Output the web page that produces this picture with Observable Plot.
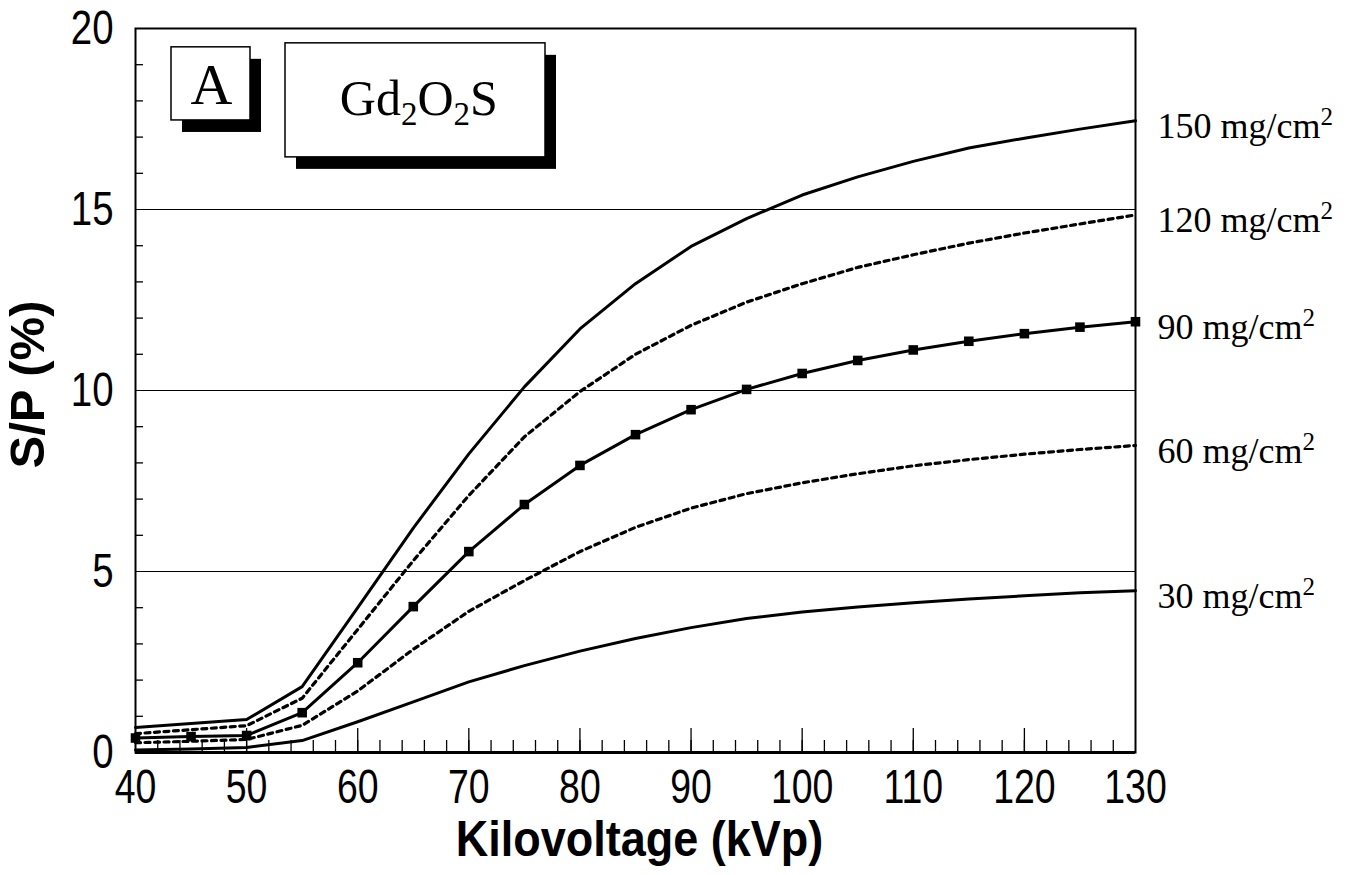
<!DOCTYPE html>
<html>
<head>
<meta charset="utf-8">
<script src="https://cdn.jsdelivr.net/npm/d3@7"></script>
<script src="https://cdn.jsdelivr.net/npm/@observablehq/plot@0.6"></script>
<style>
  html, body { margin: 0; padding: 0; background: #fff; }
  #chart svg { display: block; }
</style>
</head>
<body>
<div id="chart"></div>
<script>
// Tube voltage (kVp) at which S/P was computed
const kv = [40, 45, 50, 55, 60, 65, 70, 75, 80, 85, 90, 95, 100, 105, 110, 115, 120, 125, 130];

// S/P (%) for each screen coating weight
const s150 = [0.69, 0.80, 0.91, 1.82, 4.0, 6.2, 8.25, 10.1, 11.7, 12.95, 13.98, 14.75, 15.4, 15.9, 16.33, 16.7, 16.97, 17.22, 17.45];
const s120 = [0.52, 0.63, 0.74, 1.5, 3.4, 5.3, 7.1, 8.72, 9.97, 11.0, 11.8, 12.44, 12.95, 13.4, 13.75, 14.07, 14.35, 14.6, 14.85];
const s90  = [0.40, 0.44, 0.47, 1.10, 2.48, 4.03, 5.55, 6.85, 7.93, 8.78, 9.47, 10.03, 10.47, 10.83, 11.12, 11.36, 11.57, 11.75, 11.9];
const s60  = [0.27, 0.31, 0.36, 0.75, 1.7, 2.85, 3.9, 4.75, 5.55, 6.22, 6.75, 7.15, 7.45, 7.7, 7.92, 8.09, 8.24, 8.37, 8.48];
const s30  = [0.07, 0.10, 0.14, 0.33, 0.85, 1.4, 1.95, 2.4, 2.8, 3.15, 3.45, 3.7, 3.88, 4.02, 4.14, 4.24, 4.33, 4.41, 4.47];

const weights = [150, 120, 90, 60, 30];
const values  = [s150, s120, s90, s60, s30];
const dotted  = [false, true, false, true, false];

// Axis ticks and titles
const xTicks = [40, 50, 60, 70, 80, 90, 100, 110, 120, 130];
const yTicks = [0, 5, 10, 15, 20];
const gridY = [5, 10, 15];
const xMinor = d3.range(42, 130, 2);
const yMinor = d3.range(1, 20, 1).filter(v => v % 5 !== 0);
const xTitle = "Kilovoltage (kVp)";
const yTitle = "S/P (%)";

// Boxed captions in the upper left corner (data units)
const captions = [
  {x1: 43.24, x2: 50.35, y1: 17.46, y2: 19.48, cx: 46.84, cy: 18.43, text: "A"},
  {x1: 53.5,  x2: 76.9,  y1: 16.44, y2: 19.59, cx: 65.5, cy: 18.04, text: "Gd2O2S"}
];

const rows = weights.flatMap((w, i) => kv.map((k, j) => ({kv: k, sp: values[i][j], weight: w})));
const ends = weights.map((w, i) => ({kv: kv[kv.length - 1], sp: values[i][values[i].length - 1], label: `${w} mg/cm2`}));

const serif = "'Liberation Serif', 'Times New Roman', serif";
const sans = "'Liberation Sans', Arial, sans-serif";

const lineMarks = weights.map((w, i) =>
  Plot.line(rows.filter(d => d.weight === w), {
    x: "kv", y: "sp", stroke: "black", strokeWidth: dotted[i] ? 3.2 : 3,
    strokeDasharray: dotted[i] ? "5,4.5" : null, strokeLinejoin: "round"
  })
);

const chart = Plot.plot({
  width: 1347,
  height: 875,
  marginLeft: 135,
  marginRight: 212,
  marginTop: 28,
  marginBottom: 123,
  x: {domain: [40, 130]},
  y: {domain: [0, 20]},
  style: {fontFamily: sans, fontSize: "48px", color: "black", background: "white"},
  marks: [
    Plot.ruleY(gridY, {stroke: "black", strokeWidth: 1.2}),
    Plot.tickX(xMinor, {x: d => d, stroke: "black", strokeWidth: 1.3, insetTop: 712}),
    Plot.tickX(xTicks.slice(1, -1), {x: d => d, stroke: "black", strokeWidth: 1.3, insetTop: 700}),
    Plot.tickY(yMinor, {y: d => d, stroke: "black", strokeWidth: 1.3, insetRight: 992}),
    Plot.axisX({ticks: xTicks, tickSize: 0, tickPadding: 16, label: null, tickFormat: d => `${d}`}),
    Plot.axisY({ticks: yTicks, tickSize: 0, tickPadding: 22, label: null}),
    ...lineMarks,
    Plot.dot(rows.filter(d => d.weight === 90), {x: "kv", y: "sp", symbol: "square", r: 5.4, fill: "black"}),
    Plot.text(ends, {
      x: "kv", y: "sp", text: "label", textAnchor: "start", dx: 22, dy: 6,
      fontFamily: serif, fontSize: 36
    }),
    Plot.rect(captions, {x1: "x1", x2: "x2", y1: "y1", y2: "y2", fill: "black", dx: 11, dy: 12}),
    Plot.rect(captions, {x1: "x1", x2: "x2", y1: "y1", y2: "y2", fill: "white", stroke: "black", strokeWidth: 1.5}),
    Plot.text(captions.filter(d => d.text === "A"), {x: "cx", y: "cy", text: "text", fontFamily: serif, fontSize: 58}),
    Plot.text(captions.filter(d => d.text !== "A"), {x: "cx", y: "cy", text: "text", fontFamily: serif, fontSize: 50}),
    Plot.frame({stroke: "black", strokeWidth: 2}),
    Plot.ruleY([0], {stroke: "black", strokeWidth: 3}),
    Plot.text([xTitle], {
      frameAnchor: "bottom", lineAnchor: "middle", dx: 4, dy: 87,
      fontWeight: "bold", fontSize: 50, fontFamily: sans
    }),
    Plot.text([yTitle], {
      frameAnchor: "left", textAnchor: "middle", lineAnchor: "middle", dx: -107, dy: -6, rotate: -90,
      fontWeight: "bold", fontSize: 49, fontFamily: sans
    })
  ]
});

const svg = d3.select(chart);

// Condensed lettering for tick labels and the kVp title
function condense(sel, k) {
  sel.each(function () {
    const t = d3.select(this);
    const tr = t.attr("transform");
    if (tr) t.attr("transform", `${tr} scale(${k},1)`);
    else t.attr("transform", `translate(${+t.attr("x") || 0},${+t.attr("y") || 0}) scale(${k},1)`).attr("x", null).attr("y", null);
  });
}
condense(svg.selectAll('g[aria-label="x-axis tick label"] text'), 0.78);
condense(svg.selectAll('g[aria-label="y-axis tick label"] text'), 0.8);
condense(svg.selectAll("text").filter(function () { return this.textContent === xTitle; }), 0.9);

// Chemical formula with lowered, smaller subscripts
svg.selectAll("text")
  .filter(function () { return this.textContent === "Gd2O2S"; })
  .each(function () {
    const t = d3.select(this);
    t.text(null);
    const parts = [["Gd", false], ["2", true], ["O", false], ["2", true], ["S", false]];
    let shifted = false;
    parts.forEach(([s, sub]) => {
      const span = t.append("tspan").text(s);
      if (sub) { span.attr("font-size", 33).attr("dy", shifted ? 0 : 10); shifted = true; }
      else if (shifted) { span.attr("dy", -10); shifted = false; }
    });
  });

// Raised exponent on the coating-weight unit
svg.selectAll("text")
  .filter(function () { return /mg\/cm2$/.test(this.textContent); })
  .each(function () {
    const t = d3.select(this);
    const base = this.textContent.slice(0, -1);
    t.text(null);
    t.append("tspan").text(base);
    t.append("tspan").text("2").attr("font-size", 25).attr("dy", -13);
  });

document.getElementById("chart").append(chart);
</script>
</body>
</html>
